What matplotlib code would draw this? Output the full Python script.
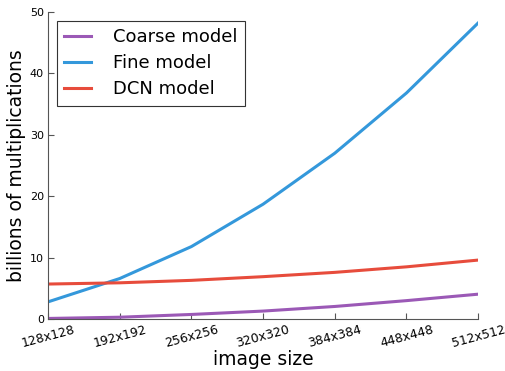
import matplotlib
matplotlib.use('Agg')
import matplotlib.pyplot as plt

# Multiplication counts (billions) per input resolution
sizes = ['128x128', '192x192', '256x256', '320x320', '384x384', '448x448', '512x512']
coarse = [0.1, 0.3, 0.75, 1.3, 2.05, 3.0, 4.05]
fine = [2.8, 6.6, 11.8, 18.7, 27.0, 36.8, 48.2]
dcn = [5.7, 5.9, 6.3, 6.9, 7.6, 8.5, 9.6]

fig = plt.figure(figsize=(5.06, 3.71), dpi=100)
ax = fig.add_axes([0.095, 0.14, 0.85, 0.828])

x = range(len(sizes))
ax.plot(x, coarse, color='#9b59b6', lw=2.2, label='Coarse model')
ax.plot(x, fine, color='#3498db', lw=2.2, label='Fine model')
ax.plot(x, dcn, color='#e74c3c', lw=2.2, label='DCN model')

ax.set_xlim(0, len(sizes) - 1)
ax.set_ylim(0, 50)
ax.set_xticks(list(x))
ax.set_xticklabels(sizes, rotation=15, fontsize=9)
ax.set_yticks([0, 10, 20, 30, 40, 50])
ax.tick_params(axis='y', labelsize=8, pad=3)
ax.tick_params(axis='x', pad=3)
ax.tick_params(direction='in', length=4, color='#555555', top=False, right=False)

for side in ['top', 'right']:
    ax.spines[side].set_visible(False)
for side in ['left', 'bottom']:
    ax.spines[side].set_color('#555555')

ax.set_xlabel('image size', fontsize=13.5, labelpad=0)
ax.set_ylabel('billions of multiplications', fontsize=13.5, labelpad=3)

leg = ax.legend(loc='upper left', fontsize=13, fancybox=False, framealpha=1,
                edgecolor='#333333', handlelength=1.5, handletextpad=1.2,
                borderaxespad=0.5, labelspacing=0.45)
leg.get_frame().set_linewidth(0.8)

fig.savefig('out.png', dpi=100)
